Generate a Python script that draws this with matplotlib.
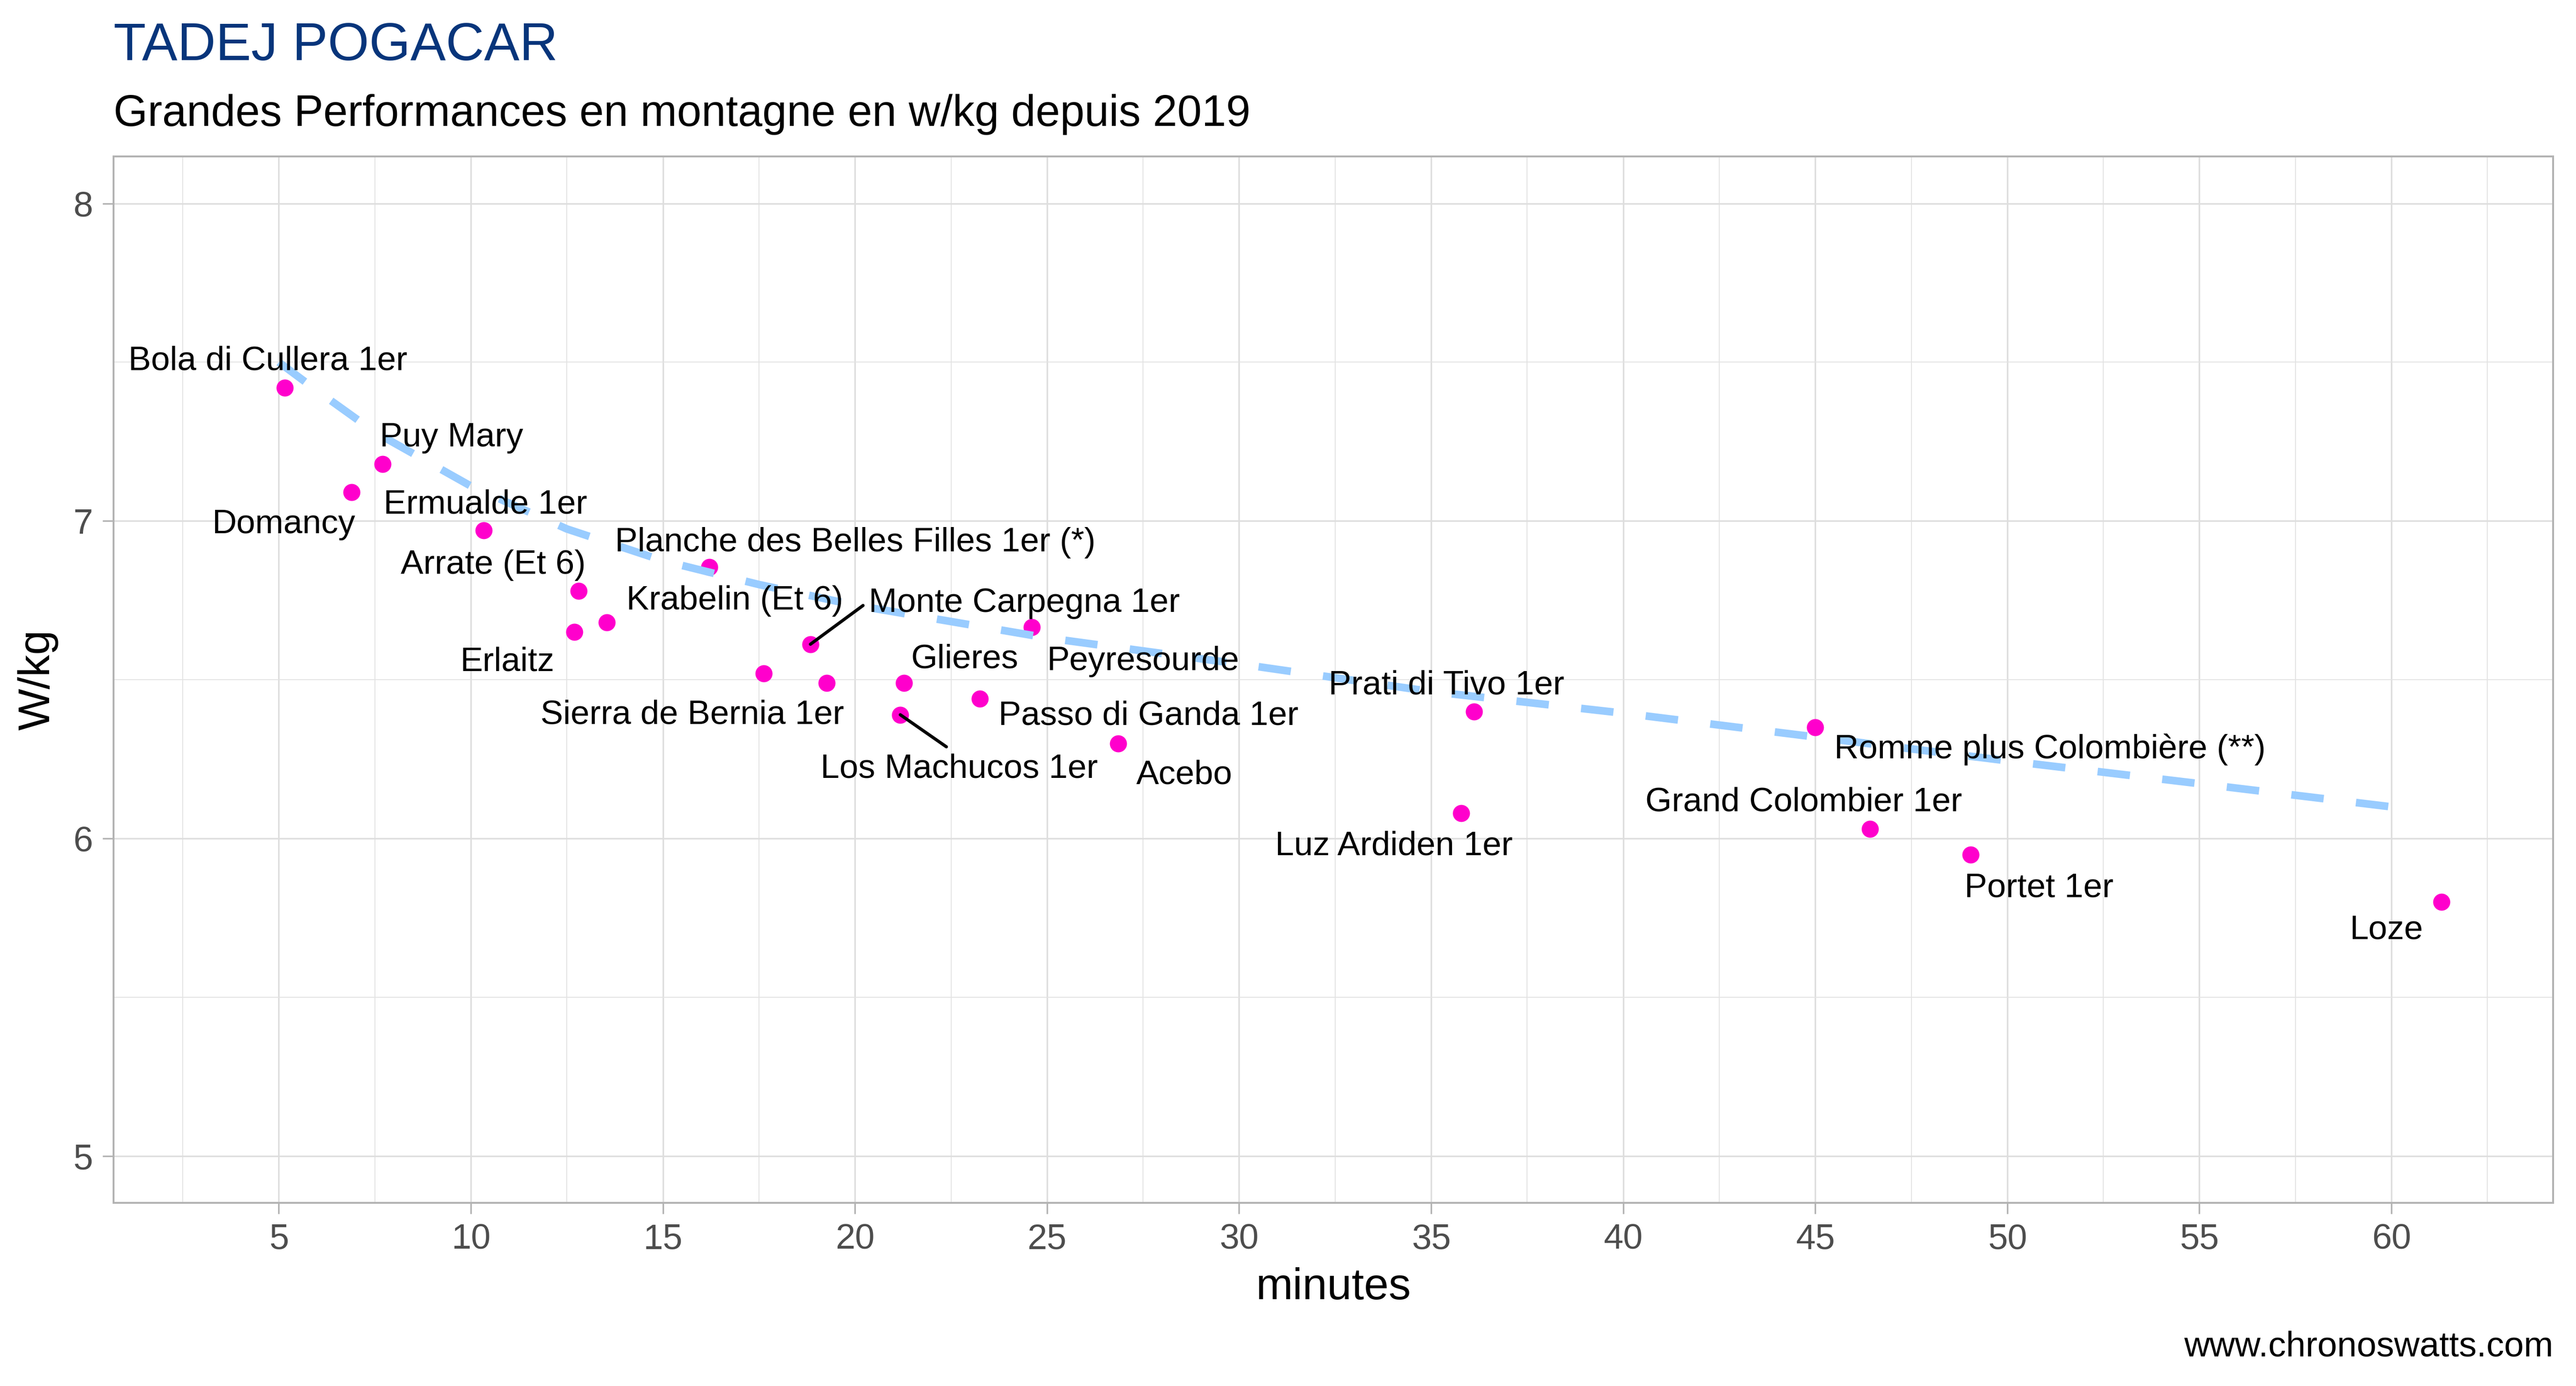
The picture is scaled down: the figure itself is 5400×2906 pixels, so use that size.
import matplotlib
matplotlib.use("Agg")
import matplotlib.pyplot as plt
from matplotlib.ticker import FixedLocator

plt.rcParams['font.family'] = ['Liberation Sans', 'DejaVu Sans']

# ---------------- data ----------------
climbs = [
    "Bola di Cullera 1er", "Puy Mary", "Domancy", "Ermualde 1er", "Arrate (Et 6)",
    "Krabelin (Et 6)", "Erlaitz", "Planche des Belles Filles 1er (*)",
    "Monte Carpegna 1er", "Sierra de Bernia 1er", "", "Glieres",
    "Los Machucos 1er", "Passo di Ganda 1er", "Peyresourde", "Acebo",
    "Prati di Tivo 1er", "Luz Ardiden 1er", "Romme plus Colombière (**)",
    "Grand Colombier 1er", "Portet 1er", "Loze",
]
minutes = [5.16, 7.70, 6.90, 10.34, 12.81, 13.54, 12.69, 16.21, 18.84, 17.63, 19.27,
           21.27, 21.18, 23.25, 24.60, 26.85, 36.12, 35.78, 45.00, 46.43, 49.04, 61.30]
wkg = [7.42, 7.18, 7.09, 6.97, 6.78, 6.68, 6.65, 6.855, 6.612, 6.52, 6.49,
       6.49, 6.39, 6.44, 6.665, 6.30, 6.40, 6.08, 6.35, 6.03, 5.95, 5.80]

trend_minutes = [5, 6, 7.5, 10, 12.5, 15, 17.5, 20, 25, 30, 35, 40, 45, 50, 55, 60]
trend_wkg = [7.50, 7.41, 7.28, 7.11, 6.975, 6.875, 6.80, 6.735, 6.632, 6.55,
             6.463, 6.395, 6.32, 6.245, 6.173, 6.10]

x_ticks = [5, 10, 15, 20, 25, 30, 35, 40, 45, 50, 55, 60]
x_minor = [2.5, 7.5, 12.5, 17.5, 22.5, 27.5, 32.5, 37.5, 42.5, 47.5, 52.5, 57.5, 62.5]
y_ticks = [5, 6, 7, 8]
y_minor = [5.5, 6.5, 7.5]

title = "TADEJ POGACAR"
subtitle = "Grandes Performances en montagne en w/kg depuis 2019"
caption = "www.chronoswatts.com"
xlabel = "minutes"
ylabel = "W/kg"

# ---------------- label layout (text centre x, baseline y) ----------------
label_pos = {
    "Bola di Cullera 1er": (4.71, 7.476),
    "Puy Mary": (9.49, 7.235),
    "Domancy": (5.12, 6.961),
    "Ermualde 1er": (10.38, 7.024),
    "Arrate (Et 6)": (10.58, 6.834),
    "Planche des Belles Filles 1er (*)": (20.0, 6.905),
    "Krabelin (Et 6)": (16.87, 6.722),
    "Monte Carpegna 1er": (24.41, 6.714),
    "Erlaitz": (10.94, 6.528),
    "Glieres": (22.86, 6.537),
    "Peyresourde": (27.5, 6.530),
    "Sierra de Bernia 1er": (15.76, 6.362),
    "Passo di Ganda 1er": (27.64, 6.359),
    "Los Machucos 1er": (22.71, 6.192),
    "Acebo": (28.58, 6.173),
    "Prati di Tivo 1er": (35.4, 6.455),
    "Luz Ardiden 1er": (34.03, 5.948),
    "Romme plus Colombière (**)": (51.11, 6.252),
    "Grand Colombier 1er": (44.7, 6.086),
    "Portet 1er": (50.83, 5.817),
    "Loze": (59.86, 5.685),
}
# ends of the leader segments (label side)
segment_end = {
    "Monte Carpegna 1er": (20.21, 6.734),
    "Los Machucos 1er": (22.38, 6.289),
}

# ---------------- figure ----------------
W, H, DPI = 5400, 2906, 300
fig = plt.figure(figsize=(W / DPI, H / DPI), dpi=DPI, facecolor='white')
left, right = 238 / W, 5352 / W
bottom, top = 1 - 2522 / H, 1 - 328 / H
ax = fig.add_axes([left, bottom, right - left, top - bottom])

ax.set_xlim(0.697, 64.21)
ax.set_ylim(4.853, 8.148)

ax.xaxis.set_major_locator(FixedLocator(x_ticks))
ax.xaxis.set_minor_locator(FixedLocator(x_minor))
ax.yaxis.set_major_locator(FixedLocator(y_ticks))
ax.yaxis.set_minor_locator(FixedLocator(y_minor))
ax.set_xticklabels([str(v) for v in x_ticks])
ax.set_yticklabels([str(v) for v in y_ticks])

ax.grid(which='major', color='#DEDEDE', linewidth=0.8, zorder=0)
ax.grid(which='minor', color='#E3E3E3', linewidth=0.45, zorder=0)
ax.set_axisbelow(True)

for sp in ax.spines.values():
    sp.set_color('#B3B3B3')
    sp.set_linewidth(0.96)

ax.tick_params(which='major', length=5.5, width=0.8, color='#B3B3B3',
               labelsize=17.8, labelcolor='#4D4D4D')
ax.tick_params(axis='x', which='major', pad=4.8)
ax.tick_params(axis='y', which='major', pad=4.9)
ax.tick_params(which='minor', length=0)

# points
ax.scatter(minutes, wkg, s=8.6 ** 2, color='#FF00CC', linewidths=0, zorder=2)

# trend line (dashed, light blue), drawn over points
ax.plot(trend_minutes, trend_wkg, color='#99CCFF', linewidth=3.85,
        dashes=(4.25, 4.25), dash_capstyle='butt', zorder=3)

# labels
for name, xm, yw in zip(climbs, minutes, wkg):
    if not name:
        continue
    tx, ty = label_pos[name]
    if name in segment_end:
        sx, sy = segment_end[name]
        ax.annotate('', xy=(xm, yw), xytext=(sx, sy),
                    arrowprops=dict(arrowstyle='-', color='black', lw=1.6,
                                    shrinkA=0, shrinkB=0), zorder=4)
    ax.text(tx, ty, name, fontsize=17.07, color='black', ha='center',
            va='baseline', zorder=5)

# titles / captions
fig.text(left, 1 - 126 / H, title, fontsize=26.7, color='#07357B',
         ha='left', va='baseline')
fig.text(left, 1 - 264 / H, subtitle, fontsize=22.1, color='black',
         ha='left', va='baseline')
fig.text(right, 1 - 2844 / H, caption, fontsize=17.8, color='black',
         ha='right', va='baseline')
fig.text((left + right) / 2, 1 - 2724 / H, xlabel, fontsize=22.3,
         color='black', ha='center', va='baseline')
fig.text(80 / W, (bottom + top) / 2, ylabel, fontsize=22.3, color='black',
         ha='center', va='center', rotation=90)

fig.savefig('out.png', dpi=DPI, facecolor='white')
